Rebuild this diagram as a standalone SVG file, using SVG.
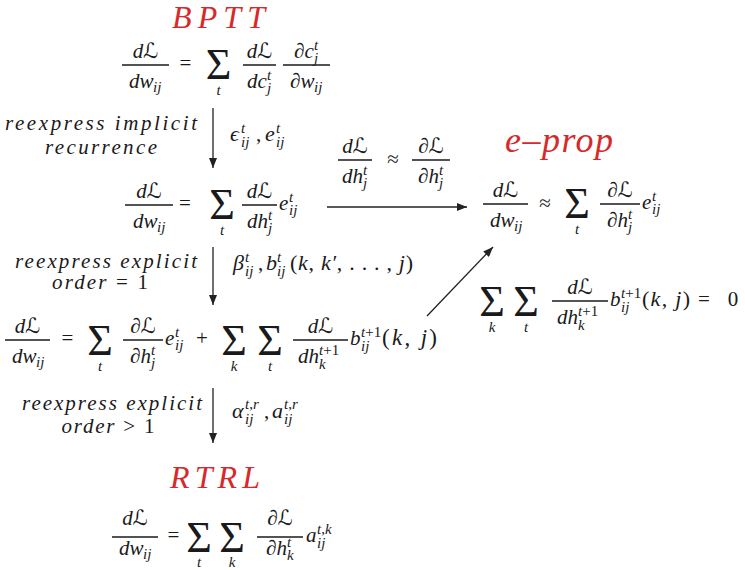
<svg xmlns="http://www.w3.org/2000/svg" width="745" height="570" viewBox="0 0 745 570" font-family="'Liberation Serif','DejaVu Serif',serif">
<defs>
<style>
text{font-family:"Liberation Serif","DejaVu Serif","DejaVu Sans",serif;fill:#1a1a1a}
.m{font-size:21px;font-style:italic}
.u{font-style:normal}
.s{font-size:15px;font-style:italic}
.sum{font-size:44px;font-style:normal;text-anchor:middle}
.c{text-anchor:middle}
.ttl{font-size:32px;font-style:italic;fill:#d62a2a;text-anchor:middle}
.lbl{font-size:21px;font-style:italic;text-anchor:middle}
.fr{stroke:#1a1a1a;stroke-width:1.3}
.arr{stroke:#222;stroke-width:1.3;fill:none;marker-end:url(#ah)}
</style>
<marker id="ah" viewBox="0 0 10 8" refX="10" refY="4" markerWidth="10" markerHeight="8" markerUnits="userSpaceOnUse" orient="auto">
<path d="M0,0 L10,4 L0,8 z" fill="#222"/>
</marker>
</defs>
<rect width="745" height="570" fill="#fff"/>

<g id="title-bptt"><text class="ttl" x="218.5" y="28" textLength="93" lengthAdjust="spacing">BPTT</text></g>

<g id="eq-bptt">
<text class="m c" x="145.5" y="58">d<tspan class="u">ℒ</tspan></text>
<line class="fr" x1="122" y1="65" x2="169" y2="65"/>
<text class="m" x="129" y="88">dw</text><text class="s" x="153" y="92">ij</text>
<text class="m u c" x="185.5" y="70">=</text>
<text class="sum" x="218.5" y="79">Σ</text>
<text class="s c" x="218.5" y="95">t</text>
<text class="m c" x="259.5" y="58">d<tspan class="u">ℒ</tspan></text>
<line class="fr" x1="243" y1="65" x2="276" y2="65"/>
<text class="m" x="247" y="88">dc</text><text class="s" x="267" y="80">t</text><text class="s" x="267" y="93">j</text>
<text class="m" x="294" y="58">∂c</text><text class="s" x="314" y="50">t</text><text class="s" x="314" y="63">j</text>
<line class="fr" x1="283" y1="65" x2="330" y2="65"/>
<text class="m" x="290" y="88">∂w</text><text class="s" x="314" y="92">ij</text>
</g>

<g id="label-implicit">
<text class="lbl" x="101" y="130" textLength="192" lengthAdjust="spacing">reexpress implicit</text>
<text class="lbl" x="101" y="154" textLength="112" lengthAdjust="spacing">recurrence</text>
<text class="m" x="230" y="141" style="font-size:22px">ϵ</text><text class="s" x="241" y="133">t</text><text class="s" x="241" y="147">ij</text>
<text class="m u" x="256" y="141">,</text>
<text class="m" x="265" y="141" style="font-size:22px">e</text><text class="s" x="276" y="133">t</text><text class="s" x="276" y="147">ij</text>
</g>

<g id="eq-implicit">
<text class="m c" x="149" y="198">d<tspan class="u">ℒ</tspan></text>
<line class="fr" x1="125" y1="205" x2="173" y2="205"/>
<text class="m" x="133" y="228">dw</text><text class="s" x="157" y="232">ij</text>
<text class="m u c" x="185" y="210">=</text>
<text class="sum" x="222" y="219">Σ</text>
<text class="s c" x="222" y="235">t</text>
<text class="m c" x="259.5" y="198">d<tspan class="u">ℒ</tspan></text>
<line class="fr" x1="242" y1="205" x2="277" y2="205"/>
<text class="m" x="247" y="228">dh</text><text class="s" x="268" y="220">t</text><text class="s" x="268" y="233">j</text>
<text class="m" x="279" y="210">e</text><text class="s" x="289" y="202">t</text><text class="s" x="289" y="215">ij</text>
</g>

<g id="label-approx">
<text class="m c" x="355" y="153">d<tspan class="u">ℒ</tspan></text>
<line class="fr" x1="338" y1="160" x2="372" y2="160"/>
<text class="m" x="342" y="183">dh</text><text class="s" x="363" y="175">t</text><text class="s" x="363" y="188">j</text>
<text class="m u c" x="393" y="166">≈</text>
<text class="m c" x="431" y="153">∂<tspan class="u">ℒ</tspan></text>
<line class="fr" x1="412" y1="160" x2="450" y2="160"/>
<text class="m" x="418" y="183">∂h</text><text class="s" x="439" y="175">t</text><text class="s" x="439" y="188">j</text>
</g>

<g id="title-eprop"><text class="ttl" x="559" y="152" style="font-size:36px" textLength="108" lengthAdjust="spacing">e–prop</text></g>

<g id="eq-eprop">
<text class="m c" x="505.5" y="197">d<tspan class="u">ℒ</tspan></text>
<line class="fr" x1="483" y1="204" x2="528" y2="204"/>
<text class="m" x="490" y="227">dw</text><text class="s" x="514" y="231">ij</text>
<text class="m u c" x="545" y="210">≈</text>
<text class="sum" x="577" y="218">Σ</text>
<text class="s c" x="577" y="234">t</text>
<text class="m c" x="620" y="197">∂<tspan class="u">ℒ</tspan></text>
<line class="fr" x1="600" y1="204" x2="640" y2="204"/>
<text class="m" x="607" y="227">∂h</text><text class="s" x="628" y="219">t</text><text class="s" x="628" y="232">j</text>
<text class="m" x="642" y="209">e</text><text class="s" x="652" y="201">t</text><text class="s" x="652" y="214">ij</text>
</g>

<g id="label-explicit1">
<text class="lbl" x="106" y="268" textLength="182" lengthAdjust="spacing">reexpress explicit</text>
<text class="lbl" x="100" y="289" textLength="96" lengthAdjust="spacing"><tspan>order</tspan><tspan class="u"> = 1</tspan></text>
<text class="m" x="233" y="270" style="font-size:22px">β</text><text class="s" x="245" y="262">t</text><text class="s" x="245" y="276">ij</text>
<text class="m u" x="258" y="270">,</text>
<text class="m" x="266" y="270" style="font-size:22px">b</text><text class="s" x="277" y="262">t</text><text class="s" x="277" y="276">ij</text>
<text class="m" x="290" y="270" style="font-size:22px" textLength="123" lengthAdjust="spacing"><tspan class="u">(</tspan>k<tspan class="u">, </tspan>k′<tspan class="u">, . . . , </tspan>j<tspan class="u">)</tspan></text>
</g>

<g id="eq-explicit1">
<text class="m c" x="27.5" y="333">d<tspan class="u">ℒ</tspan></text>
<line class="fr" x1="5" y1="340" x2="50" y2="340"/>
<text class="m" x="12" y="363">dw</text><text class="s" x="36" y="367">ij</text>
<text class="m u c" x="67.5" y="345">=</text>
<text class="sum" x="100" y="355">Σ</text>
<text class="s c" x="100" y="371">t</text>
<text class="m c" x="143" y="333">∂<tspan class="u">ℒ</tspan></text>
<line class="fr" x1="123" y1="340" x2="163" y2="340"/>
<text class="m" x="130" y="363">∂h</text><text class="s" x="151" y="355">t</text><text class="s" x="151" y="368">j</text>
<text class="m" x="165" y="345">e</text><text class="s" x="175" y="337">t</text><text class="s" x="175" y="350">ij</text>
<text class="m u c" x="202" y="345">+</text>
<text class="sum" x="234" y="355">Σ</text>
<text class="s c" x="234" y="371">k</text>
<text class="sum" x="270" y="355">Σ</text>
<text class="s c" x="270" y="371">t</text>
<text class="m c" x="320.5" y="333">d<tspan class="u">ℒ</tspan></text>
<line class="fr" x1="293" y1="340" x2="348" y2="340"/>
<text class="m" x="298" y="363">dh</text><text class="s" x="319" y="355">t<tspan class="u">+1</tspan></text><text class="s" x="319" y="369">k</text>
<text class="m" x="350" y="345">b</text><text class="s" x="361" y="337">t<tspan class="u">+1</tspan></text><text class="s" x="361" y="351">ij</text>
<text class="m" x="382" y="345" style="font-size:23px" textLength="55" lengthAdjust="spacing"><tspan class="u">(</tspan>k<tspan class="u">,</tspan> j<tspan class="u">)</tspan></text>
</g>

<g id="eq-cond">
<text class="sum" x="492" y="316">Σ</text>
<text class="s c" x="492" y="332">k</text>
<text class="sum" x="526" y="316">Σ</text>
<text class="s c" x="526" y="332">t</text>
<text class="m c" x="580" y="294">d<tspan class="u">ℒ</tspan></text>
<line class="fr" x1="552" y1="301" x2="608" y2="301"/>
<text class="m" x="557" y="324">dh</text><text class="s" x="578" y="316">t<tspan class="u">+1</tspan></text><text class="s" x="578" y="330">k</text>
<text class="m" x="610" y="306">b</text><text class="s" x="621" y="298">t<tspan class="u">+1</tspan></text><text class="s" x="621" y="312">ij</text>
<text class="m" x="642" y="306" style="font-size:22px" textLength="48" lengthAdjust="spacing"><tspan class="u">(</tspan>k<tspan class="u">,</tspan> j<tspan class="u">)</tspan></text>
<text class="m u c" x="704" y="306">=</text>
<text class="m u c" x="733" y="306">0</text>
</g>

<g id="label-explicit2">
<text class="lbl" x="112" y="410" textLength="180" lengthAdjust="spacing">reexpress explicit</text>
<text class="lbl" x="108" y="433" textLength="93" lengthAdjust="spacing"><tspan>order</tspan><tspan class="u"> &gt; 1</tspan></text>
<text class="m" x="232" y="418" style="font-size:22px">α</text><text class="s" x="245" y="409">t<tspan class="u">,</tspan>r</text><text class="s" x="245" y="424">ij</text>
<text class="m u" x="264" y="418">,</text>
<text class="m" x="272" y="418" style="font-size:22px">a</text><text class="s" x="284" y="409">t<tspan class="u">,</tspan>r</text><text class="s" x="284" y="424">ij</text>
</g>

<g id="title-rtrl"><text class="ttl" x="215" y="488" textLength="90" lengthAdjust="spacing">RTRL</text></g>

<g id="eq-rtrl">
<text class="m c" x="135" y="525">d<tspan class="u">ℒ</tspan></text>
<line class="fr" x1="112" y1="537" x2="158" y2="537"/>
<text class="m" x="119" y="555">dw</text><text class="s" x="143" y="559">ij</text>
<text class="m u c" x="173.5" y="542">=</text>
<text class="sum" x="199" y="552">Σ</text>
<text class="s c" x="199" y="567">t</text>
<text class="sum" x="232" y="552">Σ</text>
<text class="s c" x="232" y="567">k</text>
<text class="m c" x="280" y="525">∂<tspan class="u">ℒ</tspan></text>
<line class="fr" x1="257" y1="537" x2="303" y2="537"/>
<text class="m" x="266" y="555">∂h</text><text class="s" x="287" y="547">t</text><text class="s" x="287" y="560">k</text>
<text class="m" x="306" y="542">a</text><text class="s" x="317" y="534">t<tspan class="u">,</tspan>k</text><text class="s" x="317" y="548">ij</text>
</g>

<g id="connectors">
<line class="arr" x1="213" y1="108" x2="213" y2="168"/>
<line class="arr" x1="213" y1="247" x2="213" y2="305"/>
<line class="arr" x1="213" y1="388" x2="213" y2="443"/>
<line class="arr" x1="327" y1="207" x2="467" y2="207"/>
<line class="arr" x1="427" y1="316" x2="493" y2="247"/>
</g>
</svg>
